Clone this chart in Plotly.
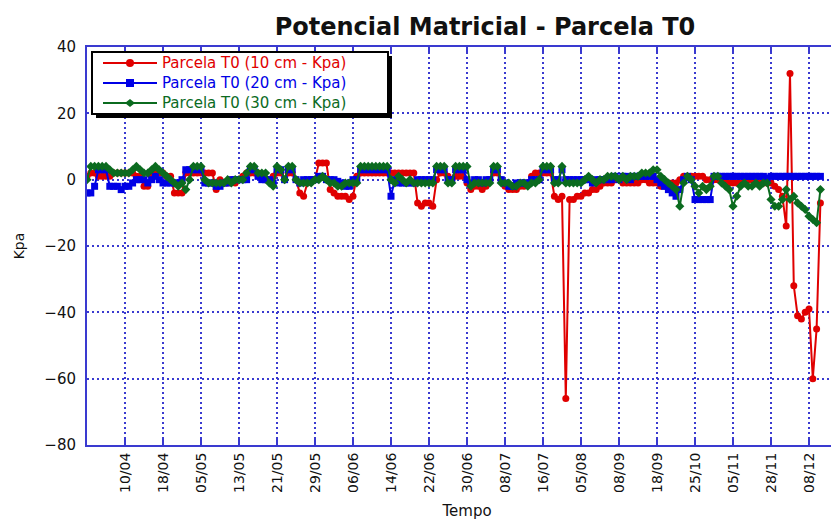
import plotly.graph_objects as go

# --- Data (one sample per step, 10 steps between labels) ---
tick_labels = ["10/04", "18/04", "05/05", "13/05", "21/05", "29/05", "06/06", "14/06",
               "22/06", "30/06", "08/07", "16/07", "05/08", "08/09", "18/09", "25/10",
               "05/11", "28/11", "08/12"]

red_10cm = [
    1, 2, 2, 1, 1, 1, 1, 2, 2, 2,
    2, 2, 2, 1, 1, -2, -2, 1, 2, 2,
    2, 1, 1, -4, -4, -4, 2, 2, 2, 2,
    2, 2, 2, 2, -3, 0, -1, -1, 0, -1,
    0, 1, 2, 2, 2, 2, 1, 0, 0, 1,
    2, 2, 0, 2, 2, 0, -4, -5, -1, 0,
    0, 5, 5, 5, -3, -4, -5, -5, -5, -6,
    -5, 1, 2, 2, 2, 2, 2, 2, 2, 2,
    2, 2, 2, 2, 2, 2, 2, -7, -8, -7,
    -7, -8, 0, 2, 2, 1, 0, 1, 1, 1,
    -1, -3, -2, -2, -3, -2, 0, 2, 2, 0,
    -2, -3, -3, -3, -2, -2, -1, 1, 2, 2,
    2, 2, 2, -5, -6, -5, -66, -6, -6, -5,
    -5, -4, -4, -3, -3, -2, -1, -1, -1, 0,
    0, -1, -1, -1, -1, -1, 0, 0, -1, -1,
    -1, -2, -2, -1, -1, -1, 0, 1, 1, 1,
    1, 1, 1, 0, 0, 0, 0, 0, 0, -1,
    -1, -1, -1, -1, 0, 0, 0, -1, -1, -1,
    -1, -2, -3, -5, -14, 32, -32, -41, -42, -40,
    -39, -60, -45, -7,
]

blue_20cm = [
    -4, -4, -2, 3, 3, 3, -2, -2, -2, -3,
    -2, -2, -1, 0, 0, 0, -1, 0, 1, 0,
    -1, -1, -1, -1, -1, 0, 3, 3, 3, 3,
    3, -1, -1, -1, -2, -2, -1, -1, 0, 0,
    0, 0, 0, 3, 3, 1, 0, 0, 0, -1,
    3, 3, 0, 3, 3, 0, -1, 0, 0, 0,
    0, 1, 1, 0, 0, 0, -0.5, -1, -2, -2,
    0, 0, 3, 3, 3, 3, 3, 3, 3, 3,
    -5, 0, -1, -1, -1, -1, -1, 0, 0, 0,
    0, 0, 3, 3, 3, 0, 0, 3, 3, 3,
    0, -1, 0, 0, -1, 0, 0, 3, 3, 0,
    -1, -2, -2, -1, -1, -1, -1, 0, 0, 0,
    3, 3, 3, 0, 0, 3, 0, 0, 0, 0,
    0, 0, 0, -1, 0, 0, 0, 0, 0, 1,
    0, 1, 1, 0, 1, 1, 1, 1, 1, 1,
    0, -1, -2, -3, -4, -5, -3, 0, 1, 0,
    -6, -6, -6, -6, -6, 1, 1, 1, 1, 1,
    1, 1, 1, 1, 1, 1, 1, 1, 1, 0.5,
    1, 1, 1, 1, 1, 1, 1, 1, 1, 1,
    1, 1, 1, 1,
]

green_30cm = [
    0, 4, 4, 4, 4, 4, 3, 2, 2, 2,
    2, 2, 3, 4, 3, 2, 2, 3, 4, 3,
    2, 1, 0, -1, -2, -1, -3, 0, 4, 4,
    4, 0, -1, -1, -1, -1, -1, 0, -1, 0,
    0, 0, 2, 4, 4, 2, 2, 2, -1, -2,
    4, 3, 0, 4, 4, 0, -1, -1, -1, -1,
    0, 0, 1, 0, -1, -1, -2, -2, -1, -1,
    -1, -1, 4, 4, 4, 4, 4, 4, 4, 4,
    0, -1, 1, 0, -1, 0, -1, -1, -1, -1,
    -1, -1, 4, 4, 4, -1, -1, 4, 4, 4,
    4, -2, -1, -1, -1, -1, -1, 4, 4, -1,
    -1, -1, -2, -2, -1, -1, -2, -1, -1, 0,
    4, 4, 4, -1, -1, 4, -1, -1, -1, -1,
    -1, 0, 1, 0, -1, 0, 0, 1, 1, 1,
    0, 1, 0, 1, 1, 1, 2, 2, 2, 3,
    3, 1, 0, -1, -2, -3, -8, -1, 1, 0,
    -2, -4, -2, -3, -2, 1, 1, -1, -2, -3,
    -8, -5, -2, -1, -2, -2, -1, -2, -1, -1,
    -6, -8, -8, -6, -3, -6, -5, -7, -8, -9,
    -11, -12, -13, -3,
]

RED = "#e00000"
BLUE = "#0000e6"
GREEN = "#0b6b1f"
GRID = "#3a3ad0"
FONT = "DejaVu Sans, Liberation Sans, Arial, sans-serif"

series = [
    ("Parcela T0 (10 cm - Kpa)", red_10cm, RED, "circle"),
    ("Parcela T0 (20 cm - Kpa)", blue_20cm, BLUE, "square"),
    ("Parcela T0 (30 cm - Kpa)", green_30cm, GREEN, "diamond"),
]

# page body has an 8px margin, so the figure sits at (8, 8) on screen.
OFF = 8
W, H = 839, 520
# plot area on screen: x 87..847 (runs past the window edge), y 47..445
L, R, T, B = 87, 847, 47, 445


def px(x):
    return (x - L) / (R - L)


def py(y):
    return (B - y) / (B - T)


fig = go.Figure()
for name, vals, color, symbol in series:
    fig.add_trace(go.Scatter(
        x=list(range(len(vals))),
        y=vals,
        mode="lines+markers",
        name=name,
        line=dict(color=color, width=2),
        marker=dict(color=color, symbol=symbol, size=7),
        showlegend=False,
    ))

# hand-drawn legend box (with shadow) like the original
shapes = [
    dict(type="rect", xref="paper", yref="paper", x0=px(96), x1=px(392), y0=py(118), y1=py(56),
         fillcolor="black", line=dict(width=0)),
    dict(type="rect", xref="paper", yref="paper", x0=px(92), x1=px(388), y0=py(114), y1=py(52),
         fillcolor="white", line=dict(color="black", width=2)),
]
annotations = []
rows = [63, 83, 103]
for (name, vals, color, symbol), ry in zip(series, rows):
    shapes.append(dict(type="line", xref="paper", yref="paper", x0=px(103), x1=px(157),
                       y0=py(ry), y1=py(ry), line=dict(color=color, width=2)))
    if symbol == "circle":
        shapes.append(dict(type="circle", xref="paper", yref="paper", x0=px(126), x1=px(134),
                           y0=py(ry + 4), y1=py(ry - 4), fillcolor=color, line=dict(width=0)))
    elif symbol == "square":
        shapes.append(dict(type="rect", xref="paper", yref="paper", x0=px(126), x1=px(134),
                           y0=py(ry + 4), y1=py(ry - 4), fillcolor=color, line=dict(width=0)))
    else:
        shapes.append(dict(type="path", xref="paper", yref="paper",
                           path=f"M {px(125)} {py(ry)} L {px(130)} {py(ry - 4)} L {px(135)} {py(ry)} "
                                f"L {px(130)} {py(ry + 4)} Z",
                           fillcolor=color, line=dict(width=0)))
    annotations.append(dict(xref="paper", yref="paper", x=px(161), y=py(ry), xanchor="left",
                            yanchor="middle", text=name, showarrow=False, borderpad=0,
                            font=dict(family=FONT, size=15, color=color)))

fig.update_layout(
    width=W, height=H,
    margin=dict(l=L - OFF, r=W + OFF - R, t=T - OFF, b=H + OFF - B),
    paper_bgcolor="white",
    plot_bgcolor="white",
    font=dict(family=FONT, color="#111111"),
    title=dict(
        text="<b>Potencial Matricial - Parcela T0</b>",
        x=px(485), xref="paper", xanchor="center",
        y=1 - (27 - OFF) / H, yanchor="middle",
        font=dict(size=24, color="#111111"),
    ),
    showlegend=False,
    shapes=shapes,
    annotations=annotations,
)

fig.update_xaxes(
    range=[0, 200],
    tickmode="array",
    tickvals=[10 * (k + 1) for k in range(len(tick_labels))],
    ticktext=tick_labels,
    tickangle=-90,
    tickfont=dict(size=14),
    ticks="inside", ticklen=6, tickcolor=GRID, tickwidth=2,
    showline=True, linecolor=GRID, linewidth=2, mirror="ticks",
    showgrid=True, gridcolor=GRID, gridwidth=1.5, griddash="2px,3px",
    zeroline=False, automargin=False,
    title=dict(text="Tempo", font=dict(size=15), standoff=14),
)

fig.update_yaxes(
    range=[-80, 40],
    dtick=20,
    tickfont=dict(size=15),
    ticks="", ticklabelstandoff=6,
    showline=True, linecolor=GRID, linewidth=2,
    showgrid=True, gridcolor=GRID, gridwidth=1.5, griddash="2px,3px",
    zeroline=False, automargin=False,
    title=dict(text="Kpa", font=dict(size=14), standoff=16),
)

fig.write_html("out.html")
